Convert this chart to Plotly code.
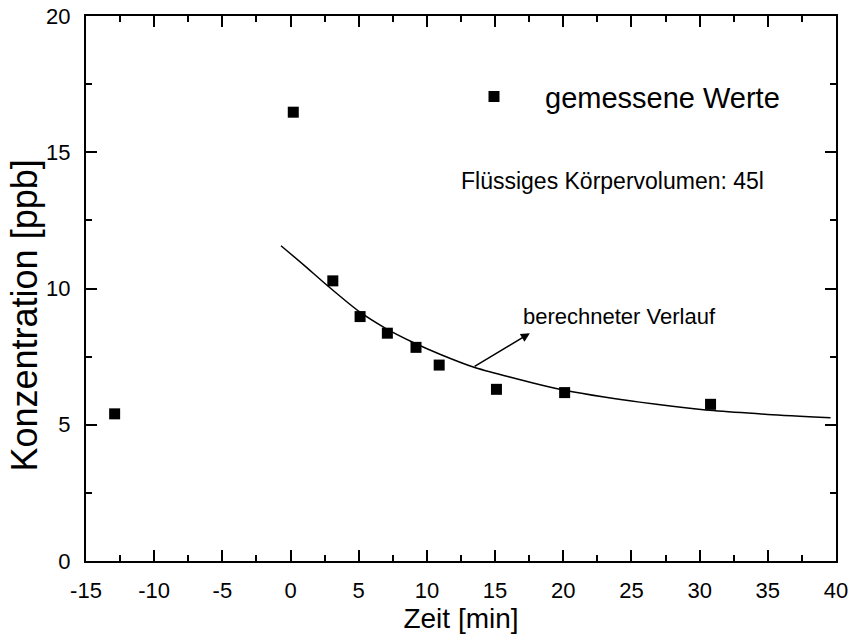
import plotly.graph_objects as go

# measured values
zeit = [-12.9, 0.2, 3.1, 5.1, 7.1, 9.2, 10.9, 15.1, 20.1, 30.8]
konz = [5.4, 16.47, 10.28, 8.97, 8.36, 7.84, 7.19, 6.30, 6.18, 5.75]

# calculated curve
kurve_x = [-0.7, 1.0, 2.65, 5.1, 7.0, 9.0, 11.0, 13.4, 16.0, 18.3, 20.1, 23.0, 25.6, 28.0, 31.0, 35.0, 39.6]
kurve_y = [11.57, 10.85, 10.13, 9.13, 8.53, 8.02, 7.58, 7.12, 6.76, 6.47, 6.27, 6.02, 5.83, 5.68, 5.52, 5.38, 5.26]

x_ticks = [-15, -10, -5, 0, 5, 10, 15, 20, 25, 30, 35, 40]
y_ticks = [0, 5, 10, 15, 20]

FONT = "Liberation Sans, Arial, Helvetica, sans-serif"

fig = go.Figure()
fig.add_trace(go.Scatter(
    x=kurve_x, y=kurve_y, mode="lines",
    line=dict(color="black", width=1.5, shape="spline", smoothing=0.8),
    showlegend=False, hoverinfo="skip",
))
fig.add_trace(go.Scatter(
    x=zeit, y=konz, mode="markers",
    marker=dict(symbol="square", size=11, color="black"),
    name="gemessene Werte", showlegend=True,
))

fig.add_annotation(
    x=23.6, y=13.95, xref="x", yref="y", text="Flüssiges Körpervolumen: 45l",
    showarrow=False, font=dict(size=23, color="black", family=FONT),
    xanchor="center", yanchor="middle",
)
fig.add_annotation(
    x=24.1, y=8.98, xref="x", yref="y", text="berechneter Verlauf",
    showarrow=False, font=dict(size=22, color="black", family=FONT),
    xanchor="center", yanchor="middle",
)
fig.add_annotation(
    x=17.55, y=8.36, ax=13.39, ay=7.11, xref="x", yref="y", axref="x", ayref="y",
    text="", showarrow=True, arrowhead=2, arrowsize=1.2, arrowwidth=1.5, arrowcolor="black",
    standoff=0, startstandoff=0,
)
# y axis title (placed as annotation to match its offset position)
fig.add_annotation(
    x=-0.082, y=0.4495, xref="paper", yref="paper", text="Konzentration [ppb]",
    textangle=-90, showarrow=False, font=dict(size=36, color="black", family=FONT),
    xanchor="center", yanchor="middle",
)

axis_common = dict(
    showgrid=False, zeroline=False, showline=True, linecolor="black", linewidth=2,
    mirror="allticks", ticks="inside", ticklen=11, tickwidth=1.5, tickcolor="black",
    tickfont=dict(size=22, color="black", family=FONT), automargin=False,
)

fig.update_xaxes(
    range=[-15, 40], tickvals=x_ticks, ticktext=[str(v) for v in x_ticks],
    minor=dict(ticks="inside", ticklen=6, tickwidth=1.5, tickcolor="black", dtick=2.5, tick0=0, showgrid=False),
    title=dict(text="Zeit [min]", font=dict(size=28, color="black", family=FONT), standoff=8),
    ticklabelstandoff=9,
    **axis_common,
)
fig.update_yaxes(
    range=[0, 20], tickvals=y_ticks, ticktext=[str(v) for v in y_ticks],
    minor=dict(ticks="inside", ticklen=6, tickwidth=1.5, tickcolor="black", dtick=2.5, tick0=0, showgrid=False),
    ticklabelstandoff=9,
    **axis_common,
)

fig.update_layout(
    width=858, height=634,
    margin=dict(l=86, r=22, t=16, b=73),
    paper_bgcolor="white", plot_bgcolor="white",
    font=dict(family=FONT, color="black"),
    legend=dict(
        x=0.476, y=0.852, xanchor="left", yanchor="middle",
        font=dict(size=29, color="black", family=FONT),
        bgcolor="rgba(0,0,0,0)", itemwidth=92,
    ),
)

fig.write_html("out.html")
